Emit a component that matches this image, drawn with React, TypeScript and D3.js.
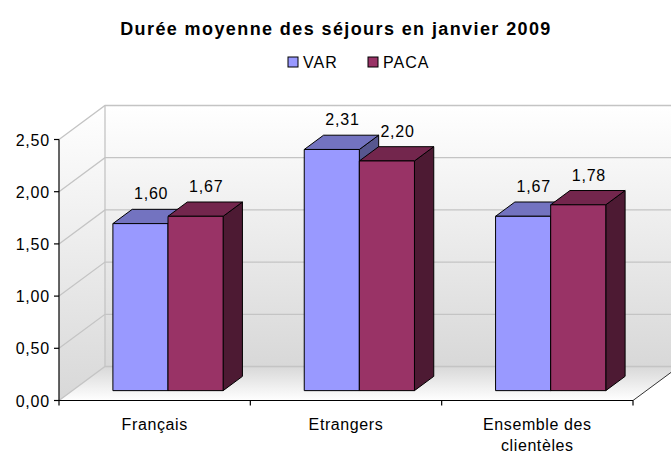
import React, { useEffect, useRef } from 'react';
import * as d3 from 'd3';

// données du graphique
const categories = ['Français', 'Etrangers', 'Ensemble des clientèles'];
const categoryLines = [['Français'], ['Etrangers'], ['Ensemble des', 'clientèles']];
const series = ['VAR', 'PACA'];
const varValues = [1.6, 2.31, 1.67];
const pacaValues = [1.67, 2.2, 1.78];
const yTicks = [0, 0.5, 1, 1.5, 2, 2.5];
const title = 'Durée moyenne des séjours en janvier 2009';

const colors = {
  VAR: { front: '#9999FF', top: '#7373C0', side: '#57578F' },
  PACA: { front: '#993366', top: '#73264D', side: '#4D1A33' },
};

const fmt = (v: number) => v.toFixed(2).replace('.', ',');

const App = () => {
  const ref = useRef<SVGSVGElement | null>(null);

  useEffect(() => {
    const width = 671;
    const height = 457;
    const svg = d3.select(ref.current);
    svg.selectAll('*').remove();
    svg.attr('width', width).attr('height', height)
      .style('position', 'absolute').style('left', '0px').style('top', '0px');

    const font = 'Liberation Sans, Arial, sans-serif';
    const left = 59;
    const right = 633;
    const depthX = 46;
    const depthY = 34;

    const y = d3.scaleLinear().domain([0, 2.5]).range([400.5, 139.5]);
    const x0 = d3.scaleBand().domain(categories).range([left, right]).padding(0);
    const x1 = d3
      .scaleBand()
      .domain(series)
      .range([x0.bandwidth() * 0.212, x0.bandwidth() * 0.788])
      .padding(0);

    const P = (px: number, py: number, z: number) => [px + z * depthX, py - z * depthY];
    const poly = (pts: number[][]) => pts.map((p) => p.join(',')).join(' ');

    const defs = svg.append('defs');
    const g1 = defs.append('linearGradient').attr('id', 'wall').attr('x1', 0).attr('y1', 0).attr('x2', 0).attr('y2', 1);
    g1.append('stop').attr('offset', '0%').attr('stop-color', '#ffffff');
    g1.append('stop').attr('offset', '100%').attr('stop-color', '#d8d8d8');
    const g2 = defs.append('linearGradient').attr('id', 'floor').attr('x1', 0).attr('y1', 0).attr('x2', 0).attr('y2', 1);
    g2.append('stop').attr('offset', '0%').attr('stop-color', '#d8d8d8');
    g2.append('stop').attr('offset', '100%').attr('stop-color', '#ffffff');

    const y0 = y(0);
    const yTop = y(2.5);

    // mur du fond
    svg.append('polygon')
      .attr('points', poly([P(left, yTop, 1), P(right, yTop, 1), P(right, y0, 1), P(left, y0, 1)]))
      .attr('fill', 'url(#wall)');
    // mur de gauche
    svg.append('polygon')
      .attr('points', poly([P(left, yTop, 0), P(left, yTop, 1), P(left, y0, 1), P(left, y0, 0)]))
      .attr('fill', 'url(#wall)');
    // sol
    svg.append('polygon')
      .attr('points', poly([P(left, y0, 0), P(left, y0, 1), P(right, y0, 1), P(right, y0, 0)]))
      .attr('fill', 'url(#floor)');

    // quadrillage
    yTicks.forEach((t) => {
      const a = P(left, y(t), 0);
      const b = P(left, y(t), 1);
      const c = P(right, y(t), 1);
      svg.append('polyline')
        .attr('points', poly([a, b, c]))
        .attr('fill', 'none')
        .attr('stroke', '#c4c4c4')
        .attr('stroke-width', 1.3);
    });
    const bl = P(left, y0, 1);
    const tl = P(left, yTop, 1);
    svg.append('line').attr('x1', bl[0]).attr('y1', bl[1]).attr('x2', tl[0]).attr('y2', tl[1])
      .attr('stroke', '#c4c4c4').attr('stroke-width', 1.3);

    // barres
    const zf = 0.29;
    const zb = 0.71;
    categories.forEach((cat, i) => {
      const vals = [varValues[i], pacaValues[i]];
      series.forEach((s, j) => {
        const c = colors[s as 'VAR' | 'PACA'];
        const xl = (x0(cat) as number) + (x1(s) as number);
        const xr = xl + x1.bandwidth();
        const yt = y(vals[j]);
        const g = svg.append('g').attr('stroke', '#000').attr('stroke-width', 1).attr('stroke-linejoin', 'round');
        g.append('polygon')
          .attr('points', poly([P(xr, yt, zf), P(xr, yt, zb), P(xr, y0, zb), P(xr, y0, zf)]))
          .attr('fill', c.side);
        g.append('polygon')
          .attr('points', poly([P(xl, yt, zf), P(xl, yt, zb), P(xr, yt, zb), P(xr, yt, zf)]))
          .attr('fill', c.top);
        g.append('polygon')
          .attr('points', poly([P(xl, yt, zf), P(xr, yt, zf), P(xr, y0, zf), P(xl, y0, zf)]))
          .attr('fill', c.front);
        const lp = P((xl + xr) / 2, yt, 0.5);
        svg.append('text')
          .attr('x', lp[0] + 1)
          .attr('y', lp[1] - 17)
          .attr('text-anchor', 'middle')
          .attr('font-family', font)
          .attr('font-size', 16)
          .attr('letter-spacing', 0.8)
          .attr('fill', '#000')
          .text(fmt(vals[j]));
      });
    });

    // axes
    svg.append('line').attr('x1', left).attr('y1', yTop).attr('x2', left).attr('y2', y0)
      .attr('stroke', '#000').attr('stroke-width', 1.2);
    svg.append('line').attr('x1', left).attr('y1', y0).attr('x2', right).attr('y2', y0)
      .attr('stroke', '#000').attr('stroke-width', 1.2);
    const br = P(right, y0, 1);
    svg.append('line').attr('x1', right).attr('y1', y0).attr('x2', br[0]).attr('y2', br[1])
      .attr('stroke', '#333').attr('stroke-width', 1);
    yTicks.forEach((t) => {
      svg.append('line').attr('x1', left - 5).attr('x2', left).attr('y1', y(t)).attr('y2', y(t))
        .attr('stroke', '#000').attr('stroke-width', 1.2);
      svg.append('text')
        .attr('x', left - 9)
        .attr('y', y(t) + 6)
        .attr('text-anchor', 'end')
        .attr('font-family', font)
        .attr('font-size', 16)
        .attr('letter-spacing', 0.8)
        .text(fmt(t));
    });
    const bounds = [...categories.map((c) => x0(c) as number), right];
    bounds.forEach((bx) => {
      svg.append('line').attr('x1', bx).attr('x2', bx).attr('y1', y0).attr('y2', y0 + 5)
        .attr('stroke', '#000').attr('stroke-width', 1.2);
    });
    categories.forEach((cat, i) => {
      const cx = (x0(cat) as number) + x0.bandwidth() / 2;
      const t = svg.append('text')
        .attr('text-anchor', 'middle')
        .attr('font-family', font)
        .attr('font-size', 16)
        .attr('letter-spacing', 0.6);
      categoryLines[i].forEach((line, k) => {
        t.append('tspan').attr('x', cx).attr('y', 430 + k * 21).text(line);
      });
    });

    // titre
    svg.append('text')
      .attr('x', 336)
      .attr('y', 35)
      .attr('text-anchor', 'middle')
      .attr('font-family', font)
      .attr('font-size', 18)
      .attr('font-weight', 'bold')
      .attr('letter-spacing', 1.4)
      .text(title);

    // légende
    const legend = svg.append('g').attr('font-family', font).attr('font-size', 16).attr('letter-spacing', 1);
    const legendX = [288, 368];
    series.forEach((s, j) => {
      legend.append('rect')
        .attr('x', legendX[j])
        .attr('y', 57)
        .attr('width', 10)
        .attr('height', 10)
        .attr('fill', colors[s as 'VAR' | 'PACA'].front)
        .attr('stroke', '#000');
      legend.append('text').attr('x', legendX[j] + 15).attr('y', 68).text(s);
    });
  }, []);

  return <svg ref={ref}></svg>;
};

export default App;
